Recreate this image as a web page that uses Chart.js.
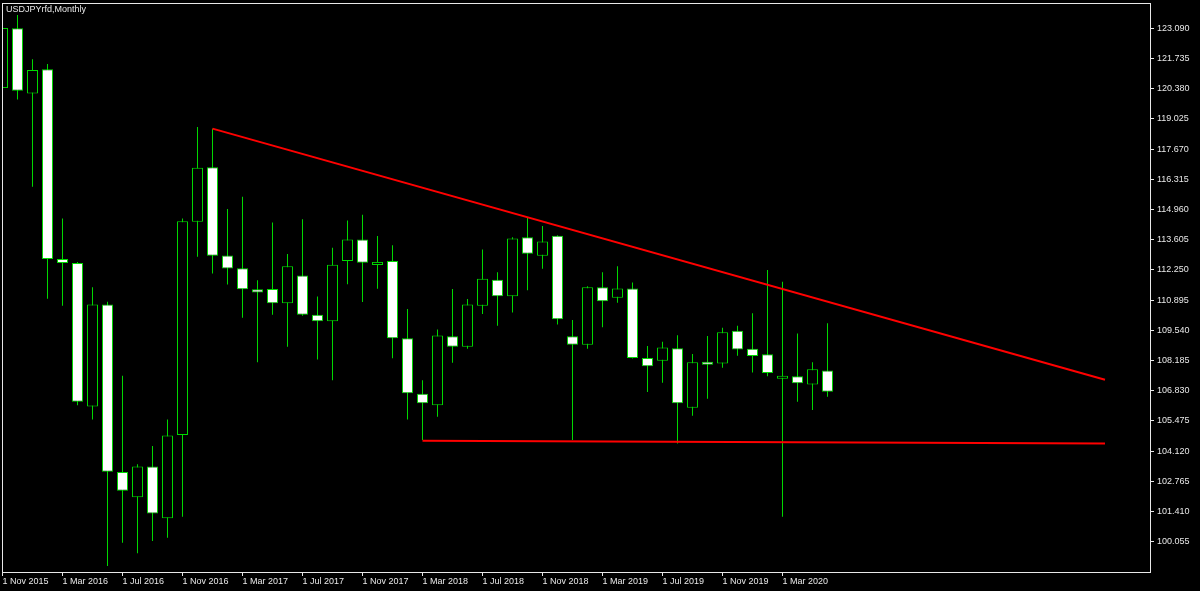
<!DOCTYPE html>
<html>
<head>
<meta charset="utf-8">
<title>USDJPYrfd,Monthly</title>
<script src="https://cdn.jsdelivr.net/npm/chart.js@4.4.1/dist/chart.umd.min.js"></script>
<style>
  html, body { margin: 0; padding: 0; background: #000; overflow: hidden; }
  #chart { display: block; }
</style>
</head>
<body>
<canvas id="chart" width="1200" height="591"></canvas>
<script>
const months = [
  'Nov 2015', 'Dec 2015', 'Jan 2016', 'Feb 2016', 'Mar 2016', 'Apr 2016', 'May 2016', 'Jun 2016',
  'Jul 2016', 'Aug 2016', 'Sep 2016', 'Oct 2016', 'Nov 2016', 'Dec 2016', 'Jan 2017', 'Feb 2017',
  'Mar 2017', 'Apr 2017', 'May 2017', 'Jun 2017', 'Jul 2017', 'Aug 2017', 'Sep 2017', 'Oct 2017',
  'Nov 2017', 'Dec 2017', 'Jan 2018', 'Feb 2018', 'Mar 2018', 'Apr 2018', 'May 2018', 'Jun 2018',
  'Jul 2018', 'Aug 2018', 'Sep 2018', 'Oct 2018', 'Nov 2018', 'Dec 2018', 'Jan 2019', 'Feb 2019',
  'Mar 2019', 'Apr 2019', 'May 2019', 'Jun 2019', 'Jul 2019', 'Aug 2019', 'Sep 2019', 'Oct 2019',
  'Nov 2019', 'Dec 2019', 'Jan 2020', 'Feb 2020', 'Mar 2020', 'Apr 2020', 'May 2020', 'Jun 2020'
];

const opens = [
  120.41, 123.10, 120.17, 121.26, 112.74, 112.56, 106.12, 110.70, 103.18, 102.04, 103.43, 101.10, 104.84, 114.41,
  116.86, 112.90, 112.32, 111.38, 111.39, 110.75, 112.00, 110.24, 109.94, 112.65, 113.62, 112.47, 112.65, 109.18,
  106.69, 106.17, 109.27, 108.80, 110.64, 111.81, 111.07, 113.71, 112.88, 113.78, 109.27, 108.89, 111.47, 111.00,
  111.42, 108.29, 108.17, 108.73, 106.06, 108.13, 108.05, 109.52, 108.71, 108.46, 107.36, 107.48, 107.11, 107.74
];
const highs = [
  123.15, 123.69, 121.70, 121.49, 114.56, 112.60, 111.47, 110.82, 107.50, 103.53, 104.34, 105.54, 114.56, 118.66,
  118.59, 114.98, 115.53, 111.78, 114.38, 112.96, 114.52, 111.06, 113.24, 114.47, 114.72, 113.77, 113.36, 110.49,
  107.30, 109.58, 111.39, 110.94, 113.17, 112.15, 113.71, 114.59, 114.22, 113.81, 110.00, 111.52, 112.15, 112.41,
  111.69, 108.83, 109.02, 109.32, 108.47, 109.28, 109.65, 109.74, 110.30, 112.24, 111.72, 109.40, 108.10, 109.86
];
const lows = [
  120.32, 119.90, 115.98, 110.96, 110.64, 106.18, 105.54, 98.96, 100.00, 99.53, 100.08, 100.23, 101.17, 112.84,
  112.09, 111.59, 110.10, 108.11, 110.24, 108.80, 110.19, 108.23, 107.30, 111.61, 110.81, 111.40, 108.28, 105.54,
  104.61, 105.66, 108.08, 108.71, 110.27, 109.74, 110.34, 111.34, 112.30, 109.80, 104.61, 108.71, 109.68, 110.77,
  108.27, 106.77, 107.18, 104.46, 105.70, 106.47, 107.86, 108.40, 107.65, 107.48, 101.17, 106.33, 105.96, 106.56
];
const closes = [
  123.11, 120.29, 121.22, 112.74, 112.56, 106.33, 110.70, 103.19, 102.34, 103.43, 101.32, 104.82, 114.43, 116.83,
  112.89, 112.31, 111.38, 111.24, 110.75, 112.41, 110.24, 109.94, 112.48, 113.62, 112.57, 112.61, 109.18, 106.71,
  106.26, 109.31, 108.80, 110.70, 111.85, 111.07, 113.66, 112.97, 113.53, 110.03, 108.89, 111.47, 110.84, 111.42,
  108.29, 107.92, 108.77, 106.26, 108.10, 107.99, 109.45, 108.68, 108.38, 107.62, 107.50, 107.16, 107.79, 106.78
];

// price ticks on the right
const yTicks = [
  100.055, 101.410, 102.765, 104.120, 105.475, 106.830, 108.185, 109.540, 110.895,
  112.250, 113.605, 114.960, 116.315, 117.670, 119.025, 120.380, 121.735, 123.090
];
// time ticks: candle index -> label
const xTickIndex = [0, 4, 8, 12, 16, 20, 24, 28, 32, 36, 40, 44, 48, 52];
const xTickLabels = [
  '1 Nov 2015', '1 Mar 2016', '1 Jul 2016', '1 Nov 2016', '1 Mar 2017', '1 Jul 2017', '1 Nov 2017',
  '1 Mar 2018', '1 Jul 2018', '1 Nov 2018', '1 Mar 2019', '1 Jul 2019', '1 Nov 2019', '1 Mar 2020'
];

// hand drawn trend lines (candle index, price)
const resistanceX = [14, 73.5];
const resistanceY = [118.59, 107.32];
const supportX = [28, 73.5];
const supportY = [104.58, 104.46];

const GREEN = '#00d800';
const FG = '#e8e8e8';
const FONT = { family: 'Liberation Sans, Arial, sans-serif', size: 9 };

const frame = {
  id: 'frame',
  beforeDraw(chart) {
    const ctx = chart.ctx;
    ctx.save();
    ctx.fillStyle = '#000';
    ctx.fillRect(0, 0, chart.width, chart.height);
    ctx.restore();
  },
  afterDraw(chart) {
    const { ctx, chartArea: a } = chart;
    ctx.save();
    ctx.strokeStyle = FG;
    ctx.lineWidth = 1;
    ctx.strokeRect(a.left + 0.5, a.top + 0.5, a.right - a.left, a.bottom - a.top);
    ctx.fillStyle = FG;
    ctx.font = '9px ' + FONT.family;
    ctx.textBaseline = 'middle';
    ctx.fillText('USDJPYrfd,Monthly', 6, 10);
    ctx.restore();
  }
};

function toPoints(xs, ys) {
  return xs.map((x, i) => ({ x, y: ys[i] }));
}

const wicks = months.map((m, i) => ({ x: i, y: [lows[i], highs[i]] }));
const bodies = months.map((m, i) => ({ x: i, y: [opens[i], closes[i]] }));
const bodyFill = months.map((m, i) => closes[i] >= opens[i] ? '#000000' : '#ffffff');

new Chart(document.getElementById('chart'), {
  type: 'bar',
  data: {
    datasets: [
      {
        type: 'line',
        data: toPoints(resistanceX, resistanceY),
        borderColor: '#ff0000',
        borderWidth: 2,
        pointRadius: 0,
        order: 0
      },
      {
        type: 'line',
        data: toPoints(supportX, supportY),
        borderColor: '#ff0000',
        borderWidth: 2,
        pointRadius: 0,
        order: 0
      },
      {
        data: bodies,
        backgroundColor: bodyFill,
        borderColor: GREEN,
        borderWidth: 1,
        borderSkipped: false,
        barThickness: 11,
        minBarLength: 3,
        grouped: false,
        inflateAmount: 0,
        order: 1
      },
      {
        data: wicks,
        backgroundColor: GREEN,
        borderWidth: 0,
        barThickness: 1,
        grouped: false,
        inflateAmount: 0,
        order: 2
      }
    ]
  },
  options: {
    responsive: false,
    animation: false,
    devicePixelRatio: 1,
    layout: { padding: { left: 2, top: 3, right: 0, bottom: 0 } },
    plugins: {
      legend: { display: false },
      tooltip: { enabled: false }
    },
    scales: {
      x: {
        type: 'linear',
        offset: false,
        min: -0.0333,
        max: 76.5,
        grid: { offset: false, drawOnChartArea: false, drawTicks: true, tickLength: 4, color: FG },
        border: { display: true, color: FG },
        afterBuildTicks: scale => { scale.ticks = xTickIndex.map(v => ({ value: v })); },
        afterFit: scale => {
          scale.height = 19;
          scale.paddingLeft = 0;
          scale.paddingRight = 0;
        },
        ticks: {
          autoSkip: false,
          maxRotation: 0,
          align: 'start',
          padding: 0,
          color: FG,
          font: FONT,
          callback: v => xTickLabels[xTickIndex.indexOf(v)]
        }
      },
      y: {
        position: 'right',
        min: 98.69,
        max: 124.23,
        grid: { drawOnChartArea: false, drawTicks: true, tickLength: 4, color: FG },
        border: { display: true, color: FG },
        afterBuildTicks: scale => { scale.ticks = yTicks.map(v => ({ value: v })); },
        afterFit: scale => {
          scale.width = 50;
          scale.paddingTop = 0;
          scale.paddingBottom = 0;
        },
        ticks: {
          autoSkip: false,
          padding: 3,
          color: FG,
          font: FONT,
          callback: v => v.toFixed(3)
        }
      }
    }
  },
  plugins: [frame]
});
</script>
</body>
</html>
